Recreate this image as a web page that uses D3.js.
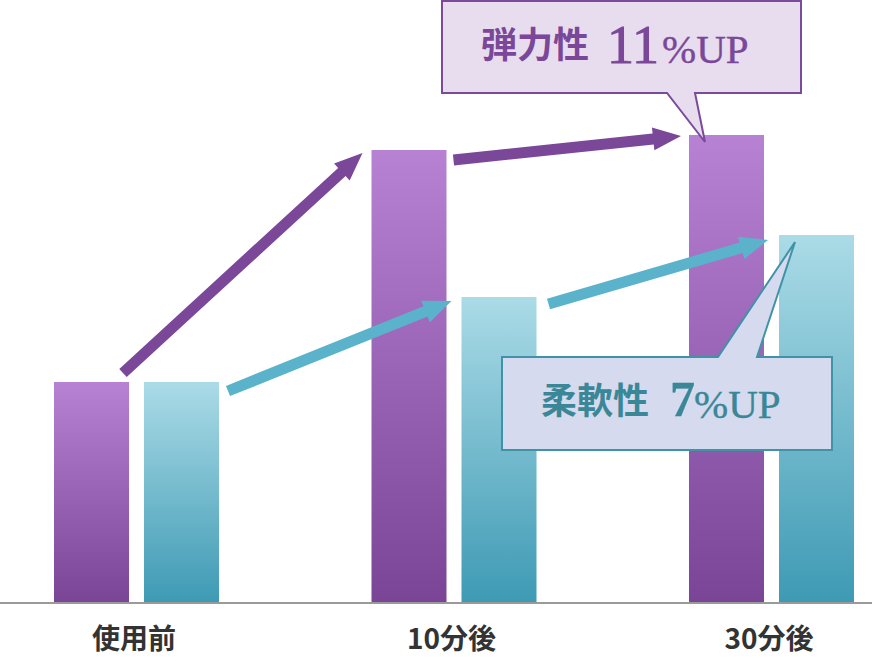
<!DOCTYPE html>
<html>
<head>
<meta charset="utf-8">
<script src="https://cdn.jsdelivr.net/npm/d3@7"></script>
<style>
  body { margin: 0; background: #fff; }
</style>
</head>
<body>
<div id="chart"></div>
<script>
// Data (bar heights in arbitrary units)
const categories = ["使用前", "10分後", "30分後"];
const seriesNames = ["弾力性", "柔軟性"];
const elasticity = [220, 452, 467];
const flexibility = [220, 305, 367];
const calloutNumbers = ["11", "7"];
const calloutUnit = "%UP";

function draw_chart() {
    const width = 872, height = 668;

    const svg = d3.select("#chart").append("svg")
        .attr("width", width)
        .attr("height", height);

    // Scales
    const x = d3.scalePoint().domain(categories).range([136.5, 771.5]);
    const xSub = d3.scaleBand().domain(seriesNames).range([-82.5, 82.5]).paddingInner(1 / 6);
    const y = d3.scaleLinear().domain([0, 500]).range([602, 102]);

    const series = [
        { name: seriesNames[0], values: elasticity, top: "#b882d4", bottom: "#7a4597", arrow: "#7b4799",
          tailOff: [[-6, -9], [7, 10]], tipOff: [[-9, 3], [-8, 1]] },
        { name: seriesNames[1], values: flexibility, top: "#abdbe7", bottom: "#3e9ab4", arrow: "#5ab3cb",
          tailOff: [[9, 9], [12, 7]], tipOff: [[-10, 4], [-11, 5]] }
    ];

    // Gradients
    const defs = svg.append("defs");
    series.forEach((s, i) => {
        const g = defs.append("linearGradient")
            .attr("id", "grad" + i)
            .attr("x1", 0).attr("y1", 0).attr("x2", 0).attr("y2", 1);
        g.append("stop").attr("offset", "0%").attr("stop-color", s.top);
        g.append("stop").attr("offset", "100%").attr("stop-color", s.bottom);
    });

    // Bars
    series.forEach((s, i) => {
        svg.append("g").selectAll("rect")
            .data(categories)
            .join("rect")
            .attr("x", (c) => x(c) + xSub(s.name))
            .attr("y", (c, j) => y(s.values[j]))
            .attr("width", xSub.bandwidth())
            .attr("height", (c, j) => y(0) - y(s.values[j]))
            .attr("fill", `url(#grad${i})`);
    });

    // Baseline
    svg.append("line")
        .attr("x1", 0).attr("x2", width)
        .attr("y1", y(0) + 1).attr("y2", y(0) + 1)
        .attr("stroke", "#9a9a9a")
        .attr("stroke-width", 2);

    // Category labels
    const xAxis = svg.append("g")
        .attr("transform", `translate(-3, ${y(0)})`)
        .call(d3.axisBottom(x).tickSize(0).tickPadding(0));
    xAxis.select(".domain").remove();
    xAxis.selectAll("text")
        .attr("dy", 0)
        .attr("y", 47)
        .style("font-family", "'Noto Sans CJK JP', sans-serif")
        .style("font-weight", "700")
        .style("font-size", "28px")
        .style("fill", "#333");

    // Block arrows between consecutive bars
    const arrowPath = (tail, tip) => {
        const dx = tip[0] - tail[0], dy = tip[1] - tail[1];
        const len = Math.hypot(dx, dy);
        const ux = dx / len, uy = dy / len;
        const nx = -uy, ny = ux;
        const shaft = 5.5, head = 11.5, headLen = 28;
        const bx = tip[0] - ux * headLen, by = tip[1] - uy * headLen;
        const pts = [
            [tail[0] + nx * shaft, tail[1] + ny * shaft],
            [bx + nx * shaft, by + ny * shaft],
            [bx + nx * head, by + ny * head],
            tip,
            [bx - nx * head, by - ny * head],
            [bx - nx * shaft, by - ny * shaft],
            [tail[0] - nx * shaft, tail[1] - ny * shaft]
        ];
        return d3.line()(pts) + "Z";
    };

    series.forEach((s) => {
        const bw = xSub.bandwidth();
        for (let j = 0; j < categories.length - 1; j++) {
            const tail = [x(categories[j]) + xSub(s.name) + bw + s.tailOff[j][0], y(s.values[j]) + s.tailOff[j][1]];
            const tip = [x(categories[j + 1]) + xSub(s.name) + s.tipOff[j][0], y(s.values[j + 1]) + s.tipOff[j][1]];
            svg.append("path")
                .attr("d", arrowPath(tail, tip))
                .attr("fill", s.arrow);
        }
    });

    // Callouts pointing at the last bar of each series
    const last = categories[categories.length - 1];
    const callouts = [
        { box: [442, 1, 359, 92], base: [667, 695], side: "bottom", fill: "#e7ddef", stroke: "#7b4a9b",
          text: "#7b4799", label: [481, 58], num: [607, 63, 54, 400, 1], unit: [662, 63, 41] },
        { box: [502, 357, 330, 93], base: [718, 757], side: "top", fill: "#d6daee", stroke: "#3f93a6",
          text: "#3a8797", label: [541, 414], num: [670, 416, 50, 700, 0.3], unit: [694, 418, 41] }
    ];

    callouts.forEach((c, i) => {
        const s = series[i];
        const tip = [x(last) + xSub(s.name) + 16, y(s.values[s.values.length - 1]) + 7];
        const [bx, by, bw, bh] = c.box;
        const p = d3.path();
        if (c.side === "bottom") {
            p.moveTo(bx, by);
            p.lineTo(bx + bw, by);
            p.lineTo(bx + bw, by + bh);
            p.lineTo(c.base[1], by + bh);
            p.lineTo(tip[0], tip[1]);
            p.lineTo(c.base[0], by + bh);
            p.lineTo(bx, by + bh);
        } else {
            p.moveTo(bx, by);
            p.lineTo(c.base[0], by);
            p.lineTo(tip[0], tip[1]);
            p.lineTo(c.base[1], by);
            p.lineTo(bx + bw, by);
            p.lineTo(bx + bw, by + bh);
            p.lineTo(bx, by + bh);
        }
        p.closePath();
        svg.append("path")
            .attr("d", p.toString())
            .attr("fill", c.fill)
            .attr("stroke", c.stroke)
            .attr("stroke-width", 2)
            .attr("stroke-linejoin", "miter");

        svg.append("text")
            .attr("x", c.label[0]).attr("y", c.label[1])
            .style("font-family", "'Noto Sans CJK JP', sans-serif")
            .style("font-weight", "700")
            .style("font-size", "36px")
            .style("fill", c.text)
            .text(s.name);

        svg.append("text")
            .attr("x", c.num[0]).attr("y", c.num[1])
            .style("font-family", "'Liberation Serif', serif")
            .style("font-size", c.num[2] + "px")
            .style("font-weight", c.num[3])
            .style("fill", c.text)
            .style("stroke", c.text)
            .style("stroke-width", c.num[4])
            .text(calloutNumbers[i]);

        svg.append("text")
            .attr("x", c.unit[0]).attr("y", c.unit[1])
            .style("font-family", "'Liberation Serif', serif")
            .style("font-size", c.unit[2] + "px")
            .style("fill", c.text)
            .style("stroke", c.text)
            .style("stroke-width", 0.4)
            .text(calloutUnit);
    });
}

draw_chart();
</script>
</body>
</html>
